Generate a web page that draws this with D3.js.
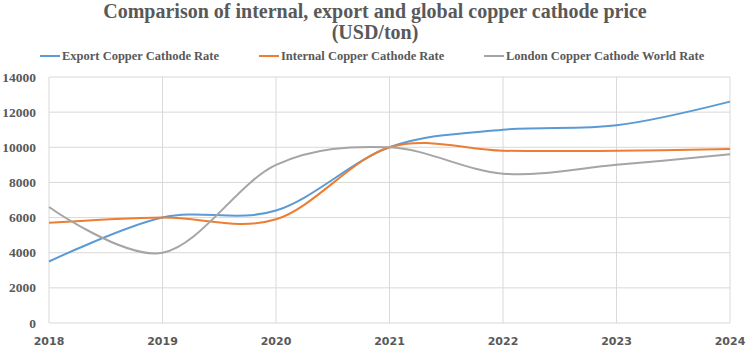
<!DOCTYPE html>
<html>
<head>
<meta charset="utf-8">
<script src="https://cdn.jsdelivr.net/npm/d3@7"></script>
<style>
body { margin: 0; background: #fff; }
svg { display: block; }
</style>
</head>
<body>
<svg id="svg"></svg>
<script>
var years = [2018, 2019, 2020, 2021, 2022, 2023, 2024];
var exportRate = [3500, 6000, 6400, 10000, 11000, 11250, 12600];
var internalRate = [5700, 6000, 5900, 10000, 9800, 9800, 9900];
var londonRate = [6600, 4000, 9000, 10000, 8500, 9000, 9600];
var yTicks = [0, 2000, 4000, 6000, 8000, 10000, 12000, 14000];

var series = [
	{name: "Export Copper Cathode Rate", values: exportRate, color: "#5B9BD5"},
	{name: "Internal Copper Cathode Rate", values: internalRate, color: "#ED7D31"},
	{name: "London Copper Cathode World Rate", values: londonRate, color: "#A5A5A5"}
];

var width = 750, height = 350;
var margin = {left: 49, right: 20, top: 77, bottom: 27};

var svg = d3.select("#svg").attr("width", width).attr("height", height);

var x = d3.scaleLinear()
	.domain([years[0], years[years.length - 1]])
	.range([margin.left, width - margin.right]);
var y = d3.scaleLinear()
	.domain([0, 14000])
	.range([height - margin.bottom, margin.top]);

// grid
svg.append("g").selectAll("line.h")
	.data(yTicks).enter().append("line")
	.attr("x1", x.range()[0]).attr("x2", x.range()[1])
	.attr("y1", function(d) { return y(d); })
	.attr("y2", function(d) { return y(d); })
	.attr("stroke", "#d9d9d9").attr("stroke-width", 1);
svg.append("g").selectAll("line.v")
	.data(years).enter().append("line")
	.attr("x1", function(d) { return x(d); })
	.attr("x2", function(d) { return x(d); })
	.attr("y1", y(0)).attr("y2", y(14000))
	.attr("stroke", "#d9d9d9").attr("stroke-width", 1);

// y labels
svg.append("g").selectAll("text")
	.data(yTicks).enter().append("text")
	.attr("x", 36)
	.attr("y", function(d) { return y(d) + 4.5; })
	.attr("text-anchor", "end")
	.attr("font-family", "Liberation Serif, serif")
	.attr("font-weight", "bold")
	.attr("font-size", 13.5)
	.attr("fill", "#595959")
	.text(function(d) { return d; });

// x labels
svg.append("g").selectAll("text")
	.data(years).enter().append("text")
	.attr("x", function(d) { return x(d); })
	.attr("y", 345)
	.attr("text-anchor", "middle")
	.attr("font-family", "DejaVu Sans, sans-serif")
	.attr("font-weight", "bold")
	.attr("font-size", 11)
	.attr("fill", "#595959")
	.text(function(d) { return d; });

// lines
var line = d3.line()
	.x(function(d, i) { return x(years[i]); })
	.y(function(d) { return y(d); })
	.curve(d3.curveCardinal.tension(0));

svg.append("g").selectAll("path")
	.data(series).enter().append("path")
	.attr("d", function(s) { return line(s.values); })
	.attr("fill", "none")
	.attr("stroke", function(s) { return s.color; })
	.attr("stroke-width", 2);

// title
var title = svg.append("text")
	.attr("text-anchor", "middle")
	.attr("font-family", "Liberation Serif, serif")
	.attr("font-weight", "bold")
	.attr("font-size", 20)
	.attr("fill", "#595959");
title.append("tspan").attr("x", 375).attr("y", 18)
	.text("Comparison of internal, export and global copper cathode price");
title.append("tspan").attr("x", 375).attr("y", 39).text("(USD/ton)");

// legend
var legendX = [40, 259, 484];
var lg = svg.append("g").selectAll("g")
	.data(series).enter().append("g")
	.attr("transform", function(s, i) { return "translate(" + legendX[i] + ",56)"; });
lg.append("line")
	.attr("x1", 0).attr("x2", 20)
	.attr("stroke", function(s) { return s.color; })
	.attr("stroke-width", 2);
lg.append("text")
	.attr("x", 22).attr("y", 4)
	.attr("font-family", "Liberation Serif, serif")
	.attr("font-weight", "bold")
	.attr("font-size", 12.5)
	.attr("fill", "#595959")
	.text(function(s) { return s.name; });
</script>
</body>
</html>
